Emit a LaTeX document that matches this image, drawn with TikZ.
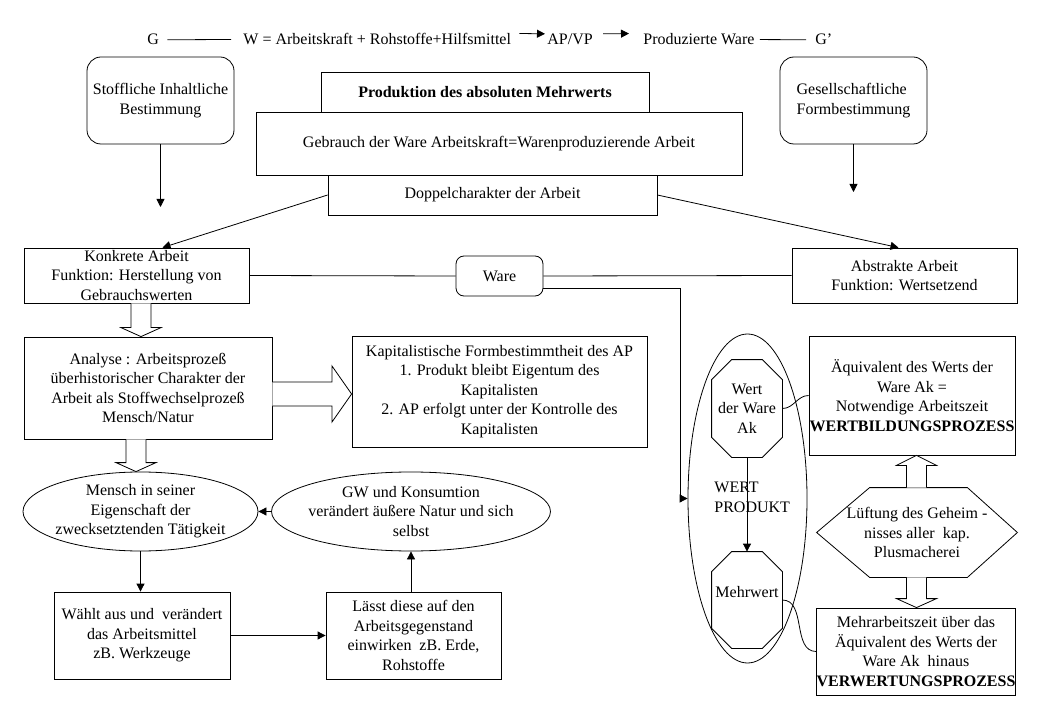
\documentclass[tikz,border=0pt]{standalone}
\usepackage{fontspec}
\setmainfont{Liberation Serif}
\usetikzlibrary{arrows.meta,shapes.geometric,calc}

\newcommand{\sz}{\fontsize{16}{19.5}\selectfont}

\tikzset{
  box/.style={draw, rectangle, align=center, inner sep=0pt},
  roundbox/.style={box, rounded corners=14pt},
  oval/.style={draw, ellipse, align=center, inner sep=-4pt},
  octo/.style={align=center, inner sep=0pt},
  plain/.style={inner sep=0pt, anchor=base west},
  arr/.style={-{Triangle[length=8pt,width=8pt]}},
  block/.style={draw, fill=white},
}

% octagon round a node
\newcommand{\octframe}[1]{%
  \draw ([xshift=20pt]#1.north west) -- ([xshift=-20pt]#1.north east)
    -- ([yshift=-20pt]#1.north east) -- ([yshift=20pt]#1.south east)
    -- ([xshift=-20pt]#1.south east) -- ([xshift=20pt]#1.south west)
    -- ([yshift=20pt]#1.south west) -- ([yshift=-20pt]#1.north west) -- cycle;}

% hollow arrow downwards at x=#1 from node #2 to node #3
\newcommand{\blockdown}[3]{%
  \draw[block] (#2.south -| #1-10,0) -- ($(#3.north -| #1-10,0)+(0,-9)$)
    -- ($(#3.north -| #1-20,0)+(0,-9)$) -- (#3.north -| #1,0)
    -- ($(#3.north -| #1+20,0)+(0,-9)$) -- ($(#3.north -| #1+10,0)+(0,-9)$)
    -- (#2.south -| #1+10,0);}

% hollow arrow upwards at x=#1 from node #2 to node #3
\newcommand{\blockup}[3]{%
  \draw[block] (#2.north -| #1-10,0) -- ($(#3.south -| #1-10,0)+(0,10)$)
    -- ($(#3.south -| #1-20,0)+(0,10)$) -- (#3.south -| #1,0)
    -- ($(#3.south -| #1+20,0)+(0,10)$) -- ($(#3.south -| #1+10,0)+(0,10)$)
    -- (#2.north -| #1+10,0);}

\begin{document}
\begin{tikzpicture}[x=1pt, y=-1pt, font=\sz, line width=0.8pt]
\useasboundingbox (0,0) rectangle (1039,719);

% the formula on top
\node[plain] (g) at (147,45) {G};
\node[plain] (w) at (243,45) {W = Arbeitskraft + Rohstoffe+Hilfsmittel};
\node[plain] (apvp) at (547,45) {AP/VP};
\node[plain] (prodware) at (643,45) {Produzierte Ware};
\node[plain] (gstrich) at (815,45) {G’};

\draw ([xshift=8pt]g.east) -- ([xshift=-12pt]w.west);
\draw[arr] ([xshift=8pt,yshift=6pt]w.east) -- ([xshift=-2pt,yshift=6pt]apvp.west);
\draw[arr] ([xshift=10pt,yshift=6pt]apvp.east) -- ([xshift=-14pt,yshift=6pt]prodware.west);
\draw ([xshift=5pt]prodware.east) -- ([xshift=-9pt]gstrich.west);

% head
\node[roundbox, minimum width=147pt, minimum height=87pt] (stoff) at (160.5,100.5) {Stoffliche Inhaltliche\\Bestimmung};
\node[roundbox, align=left, minimum width=147pt, minimum height=87pt] (gesell) at (853.5,100.5) {Gesellschaftliche\\Formbestimmung};
\coordinate (stoffend) at (160.5,207);
\coordinate (gesellend) at (853.5,192);
\draw[arr] (stoff.south) -- (stoffend);
\draw[arr] (gesell.south) -- (gesellend);

\node[box, minimum width=328pt, minimum height=40pt, font=\sz\bfseries] (prod) at (485,92) {Produktion des absoluten Mehrwerts};
\node[box, minimum width=486pt, minimum height=63pt] (gebr) at (499,143.5) {Gebrauch der Ware Arbeitskraft=Warenproduzierende Arbeit};
\node[box, minimum width=329pt, minimum height=40pt] (dopp) at (492.5,195) {Doppelcharakter der Arbeit};

% konkrete / abstrakte arbeit
\node[box, minimum width=225pt, minimum height=55pt] (konk) at (136.5,275.5) {Konkrete Arbeit\\Funktion: Herstellung von\\Gebrauchswerten};
\node[roundbox, rounded corners=8pt, minimum width=87pt, minimum height=40pt] (ware) at (499.5,276) {Ware};
\node[box, minimum width=225pt, minimum height=55pt] (abstr) at (904.5,275.5) {Abstrakte Arbeit\\Funktion: Wertsetzend};

\draw[arr] (dopp.west) -- ([xshift=26pt]konk.north);
\draw[arr] (dopp.east) -- ([xshift=-6pt]abstr.north);
\draw (konk.east) -- (ware.west);
\draw (ware.east) -- (abstr.west);

% left column
\node[box, minimum width=248pt, minimum height=102pt] (anal) at (148,388) {Analyse : Arbeitsprozeß\\überhistorischer Charakter der\\Arbeit als Stoffwechselprozeß\\Mensch/Natur};
\node[box, minimum width=295pt, minimum height=111pt] (kapit) at (499.5,391.5) {Kapitalistische Formbestimmtheit des AP\\1. Produkt bleibt Eigentum des\\Kapitalisten\\2. AP erfolgt unter der Kontrolle des\\Kapitalisten};
\node[oval, minimum width=235pt, minimum height=79pt] (mensch) at (140.5,511.5) {Mensch in seiner\\Eigenschaft der\\zwecksetztenden Tätigkeit};
\node[oval, minimum width=232pt, minimum height=79pt] (gw) at (411,511.5) {GW und Konsumtion\\verändert äußere Natur und sich\\selbst};
\node[box, minimum width=176pt, minimum height=87pt] (waehlt) at (142,635.5) {Wählt aus und\ \ verändert\\das Arbeitsmittel\\zB. Werkzeuge};
\node[box, minimum width=175pt, minimum height=87pt] (laesst) at (413.5,635.5) {Lässt diese auf den\\Arbeitsgegenstand\\einwirken\ \ zB. Erde,\\Rohstoffe};

\blockdown{141}{konk}{anal}
\blockdown{136}{anal}{mensch}
\draw[block] (anal.east |- 0,382) -- (332,382) -- (332,366) -- (kapit.west |- 0,394)
  -- (332,422) -- (332,406) -- (anal.east |- 0,406);

\draw[arr] (gw.west) -- (mensch.east);
\draw[arr] (mensch.south) -- (mensch.south |- waehlt.north);
\draw[arr] (waehlt.east) -- (waehlt.east -| laesst.west);
\draw[arr] (gw.south |- laesst.north) -- (gw.south);

% wertprodukt
\node[draw, ellipse, minimum width=119pt, minimum height=329pt, inner sep=0pt] (wertprod) at (747.5,498.5) {};
\node[octo, minimum width=70pt, minimum height=97pt] (wert) at (747,408.5) {Wert\\der Ware\\Ak};
\octframe{wert}
\node[octo, minimum width=70pt, minimum height=96pt, label={[yshift=8pt]center:Mehrwert}] (mehr) at (747,600) {};
\octframe{mehr}
\node[plain, anchor=west, align=left] (wertprodtxt) at (714,497.5) {WERT\\PRODUKT};
\draw[arr] (wert.south) -- (mehr.north);

\draw[arr] ([yshift=-12pt]ware.east) -| ([xshift=-7pt]wertprod.west) -- (wertprod.west);

% right column
\node[box, minimum width=206pt, minimum height=119pt] (aequi) at (912,395.5) {Äquivalent des Werts der\\Ware Ak =\\Notwendige Arbeitszeit\\\textbf{WERTBILDUNGSPROZESS}};
\node[octo, minimum width=200pt, minimum height=89pt] (lueft) at (917,532.5) {Lüftung des Geheim -\\nisses aller\ \ kap.\\Plusmacherei};
\draw (lueft.west) -- ([xshift=53pt]lueft.north west) -- ([xshift=-50pt]lueft.north east)
  -- (lueft.east) -- ([xshift=-50pt]lueft.south east) -- ([xshift=53pt]lueft.south west) -- cycle;
\node[box, minimum width=198pt, minimum height=87pt] (mehrarb) at (916,651.5) {Mehrarbeitszeit über das\\Äquivalent des Werts der\\Ware Ak\ \ hinaus\\\textbf{VERWERTUNGSPROZESS}};

\blockup{916.5}{lueft}{aequi}
\blockdown{916.5}{lueft}{mehrarb}

\draw (wert.east) to[out=0, in=180] (aequi.west);
\draw (mehr.east) to[out=0, in=180] (mehrarb.west);

\end{tikzpicture}
\end{document}
